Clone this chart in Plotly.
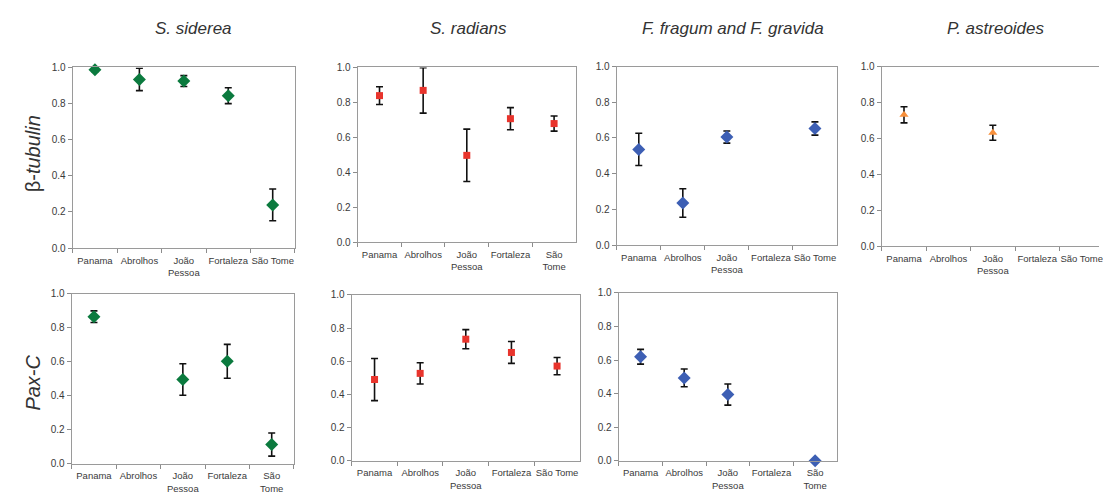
import plotly.graph_objects as go

W, H = 1103, 500

categories = ["Panama", "Abrolhos", "João Pessoa", "Fortaleza", "São Tome"]
labels_one = ["Panama", "Abrolhos", "João<br>Pessoa", "Fortaleza", "São Tome"]
labels_two = ["Panama", "Abrolhos", "João<br>Pessoa", "Fortaleza", "São<br>Tome"]

species = ["S. siderea", "S. radians", "F. fragum and F. gravida", "P. astreoides"]
genes = ["β-tubulin", "Pax-C"]

# beta-tubulin
sid_beta = [0.987, 0.934, 0.925, 0.844, 0.239]
sid_beta_err = [0.01, 0.062, 0.030, 0.044, 0.088]
rad_beta = [0.839, 0.869, 0.497, 0.707, 0.679]
rad_beta_err = [0.051, 0.13, 0.15, 0.063, 0.043]
fra_beta = [0.536, 0.236, 0.605, None, 0.653]
fra_beta_err = [0.09, 0.08, 0.034, None, 0.037]
ast_beta = [0.731, None, 0.631, None, None]
ast_beta_err = [0.045, None, 0.042, None, None]

# Pax-C
sid_pax = [0.866, None, 0.496, 0.603, 0.113]
sid_pax_err = [0.034, None, 0.093, 0.10, 0.068]
rad_pax = [0.490, 0.527, 0.733, 0.653, 0.571]
rad_pax_err = [0.127, 0.064, 0.058, 0.066, 0.052]
fra_pax = [0.620, 0.494, 0.395, None, 0.0]
fra_pax_err = [0.044, 0.053, 0.063, None, 0.0]

GREEN, RED, BLUE, ORANGE = "#0b7a3e", "#e8342c", "#3d5fb4", "#f7903c"
FONT = "Liberation Sans Narrow, Arial Narrow, Liberation Sans, Arial"

# panels: (values, errors, color, symbol, size, ticktext, px box [x0,x1,y0,y1], xrange_end, mirror_y)
panels = [
    (sid_beta, sid_beta_err, GREEN, "diamond", 10, labels_one, [73, 296, 63, 248], 4.5, True),
    (rad_beta, rad_beta_err, RED, "square", 7, labels_two, [359, 578, 63, 242], 4.5, True),
    (fra_beta, fra_beta_err, BLUE, "diamond", 10, labels_one, [619, 840, 62, 245], 4.5, True),
    (ast_beta, ast_beta_err, ORANGE, "triangle-up", 8, labels_one, [885, 1103, 62, 246], 4.39, False),
    (sid_pax, sid_pax_err, GREEN, "diamond", 10, labels_two, [72, 295, 295, 469], 4.5, True),
    (rad_pax, rad_pax_err, RED, "square", 7, labels_one, [353, 582, 296, 466], 4.5, True),
    (fra_pax, fra_pax_err, BLUE, "diamond", 10, labels_two, [621, 840, 294, 466], 4.5, True),
]

fig = go.Figure()
layout = {}
for i, (vals, errs, col, sym, size, ttext, box, xend, mir) in enumerate(panels, start=1):
    xs = "x" if i == 1 else f"x{i}"
    ys = "y" if i == 1 else f"y{i}"
    fig.add_trace(go.Scatter(
        x=categories, y=vals, mode="markers",
        marker=dict(color=col, symbol=sym, size=size, line=dict(width=0)),
        error_y=dict(type="data", array=errs, visible=True, color="#111111",
                     thickness=1.6, width=3.5),
        xaxis=xs, yaxis=ys, showlegend=False, cliponaxis=False,
    ))
    x0, x1, y0, y1 = box
    xk = "xaxis" if i == 1 else f"xaxis{i}"
    yk = "yaxis" if i == 1 else f"yaxis{i}"
    layout[xk] = dict(
        domain=[x0 / W, x1 / W], anchor=ys, type="category",
        categoryorder="array", categoryarray=categories,
        range=[-0.5, xend], tickmode="array", tickvals=categories, ticktext=ttext,
        tickson="boundaries", ticks="outside", ticklen=4, tickcolor="#8c8c8c",
        tickangle=0, ticklabelstandoff=3,
        showline=True, linecolor="#9a9a9a", linewidth=1.2, mirror=True,
        showgrid=False, zeroline=False, fixedrange=True,
        tickfont=dict(family=FONT, size=9.5, color="#3a3a3a"),
    )
    layout[yk] = dict(
        domain=[1 - y1 / H, 1 - y0 / H], anchor=xs, range=[0, 1.0],
        tickmode="array", tickvals=[0, 0.2, 0.4, 0.6, 0.8, 1.0],
        ticktext=["0.0", "0.2", "0.4", "0.6", "0.8", "1.0"],
        ticks="outside", ticklen=4, tickcolor="#8c8c8c",
        showline=True, linecolor="#9a9a9a", linewidth=1.2, mirror=mir,
        showgrid=False, zeroline=False, fixedrange=True,
        tickfont=dict(family=FONT, size=10, color="#3a3a3a"),
    )

annotations = []
title_x = [194, 470, 736, 1000]
for sp, cx in zip(species, title_x):
    annotations.append(dict(
        text=f"<i>{sp}</i>", x=cx / W, y=1 - 23 / H, xref="paper", yref="paper",
        showarrow=False, xanchor="center", yanchor="middle",
        font=dict(family=FONT, size=17, color="#333333"),
    ))
row_y = [151, 386]
row_text = ["β-<i>tubulin</i>", "<i>Pax-C</i>"]
for t, cy in zip(row_text, row_y):
    annotations.append(dict(
        text=t, x=33 / W, y=1 - cy / H, xref="paper", yref="paper",
        showarrow=False, xanchor="center", yanchor="middle", textangle=-90,
        font=dict(family=FONT, size=20, color="#333333"),
    ))

fig.update_layout(
    width=W, height=H, margin=dict(l=0, r=0, t=0, b=0),
    paper_bgcolor="white", plot_bgcolor="white",
    annotations=annotations, **layout,
)
fig.write_html("out.html")
